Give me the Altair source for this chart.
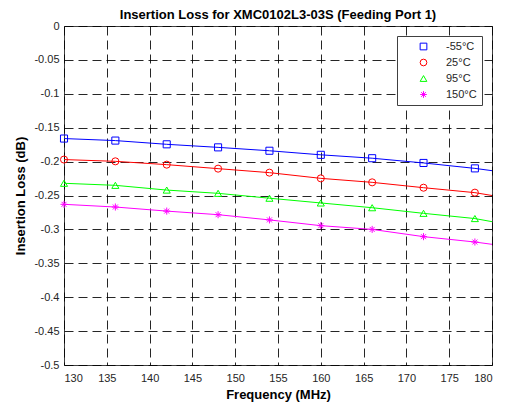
import altair as alt
import pandas as pd

freq = [130, 136, 142, 148, 154, 160, 166, 172, 178]
freq_line = freq + [180]
series = ["-55°C", "25°C", "95°C", "150°C"]
m55 = [-0.166, -0.169, -0.1745, -0.179, -0.184, -0.190, -0.195, -0.202, -0.210]
p25 = [-0.197, -0.1996, -0.2045, -0.2104, -0.2163, -0.2247, -0.2306, -0.2385, -0.2458]
p95 = [-0.232, -0.235, -0.242, -0.2468, -0.254, -0.261, -0.268, -0.2763, -0.284]
p150 = [-0.263, -0.267, -0.273, -0.2783, -0.286, -0.2945, -0.300, -0.3107, -0.3186]
end_vals = [-0.2134, -0.250, -0.2886, -0.322]
colors = ["#0000FF", "#FF0000", "#00FF00", "#FF00FF"]
shapes = [
    "square",
    "circle",
    "triangle-up",
    "M0,-1L0,1M-1,0L1,0M-0.7,-0.7L0.7,0.7M-0.7,0.7L0.7,-0.7",
]
x_ticks = [130, 135, 140, 145, 150, 155, 160, 165, 170, 175, 180]
y_ticks = [0, -0.05, -0.1, -0.15, -0.2, -0.25, -0.3, -0.35, -0.4, -0.45, -0.5]

vals = [m55, p25, p95, p150]
line_keys = [s + " line" for s in series]
pts = []
lines = []
for s, lk, v, e in zip(series, line_keys, vals, end_vals):
    for f, y in zip(freq, v):
        pts.append({"f": f, "v": y, "s": s})
    for f, y in zip(freq_line, v + [e]):
        lines.append({"f": f, "v": y, "ls": lk})
pts = pd.DataFrame(pts)
lines = pd.DataFrame(lines)

xenc = alt.X("f:Q", scale=alt.Scale(domain=[130, 180], nice=False),
             axis=alt.Axis(values=x_ticks, title="Frequency (MHz)"))
yenc = alt.Y("v:Q", scale=alt.Scale(domain=[-0.5, 0], nice=False),
             axis=alt.Axis(values=y_ticks, title="Insertion Loss (dB)",
                           labelExpr="'' + datum.value"))

line = alt.Chart(lines).mark_line(strokeWidth=1, clip=True).encode(
    x=xenc, y=yenc,
    stroke=alt.Stroke("ls:N", scale=alt.Scale(domain=line_keys, range=colors), legend=None),
    detail="ls:N",
)
points = alt.Chart(pts).mark_point(filled=False, size=50, strokeWidth=1, opacity=1).encode(
    x=xenc, y=yenc,
    color=alt.Color("s:N", scale=alt.Scale(domain=series, range=colors),
                    legend=alt.Legend(orient="top-right", offset=10, title=None)),
    shape=alt.Shape("s:N", scale=alt.Scale(domain=series, range=shapes),
                    legend=alt.Legend(orient="top-right", offset=10, title=None)),
)

chart = alt.layer(line, points).properties(
    width=428, height=339,
    title=alt.Title("Insertion Loss for XMC0102L3-03S (Feeding Port 1)",
                    fontSize=13, fontWeight="bold", font="Liberation Sans",
                    color="#000000", offset=8.5, frame="group", baseline="alphabetic",
                    dy=20),
    autosize=alt.AutoSizeParams(type="none"),
    padding={"left": 56, "top": 18, "right": 6, "bottom": 39},
).configure_view(
    stroke="#404040", strokeWidth=1,
).configure_axis(
    domain=False, ticks=False,
    grid=True, gridColor="#000000", gridDash=[9, 5], gridOpacity=0.85, gridWidth=1,
    labelFont="Liberation Sans", labelFontSize=11, labelColor="#262626",
    titleFont="Liberation Sans", titleFontSize=13, titleFontWeight="bold", titleColor="#000000",
).configure_axisX(
    labelPadding=7, titlePadding=5,
).configure_axisY(
    labelPadding=5, titlePadding=6,
).configure_legend(
    fillColor="#FFFFFF", strokeColor="#404040", padding=5,
    symbolOffset=16, labelOffset=17, rowPadding=4,
    labelFont="Liberation Sans", labelFontSize=11, labelColor="#262626",
    symbolSize=45, symbolStrokeWidth=1,
)

chart.save("out.html", embed_options={"renderer": "svg", "actions": False})
